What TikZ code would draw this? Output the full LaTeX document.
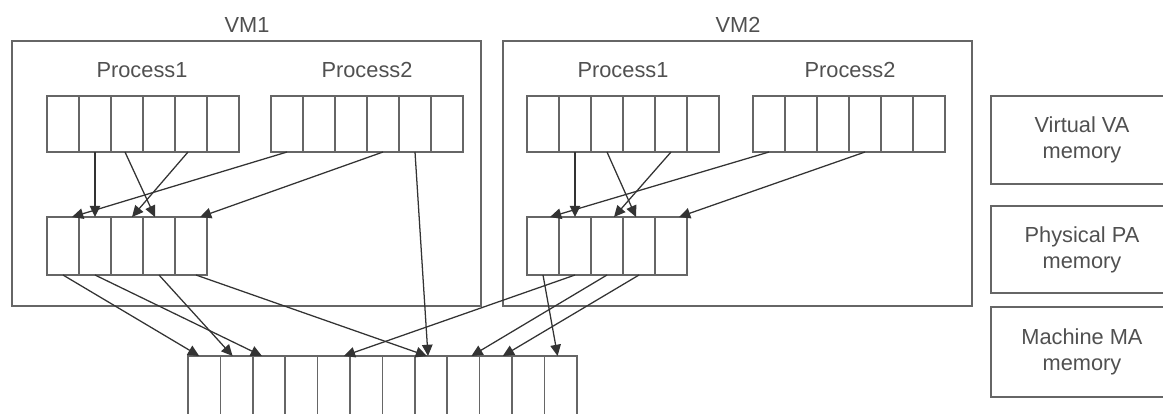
\documentclass[tikz,border=0pt]{standalone}
\usepackage{fontspec}
\setmainfont{Liberation Sans}
\usetikzlibrary{arrows.meta,positioning}

\definecolor{boxgray}{HTML}{666666}
\definecolor{arrgray}{HTML}{333333}
\definecolor{txtgray}{HTML}{505050}

\begin{document}
\begin{tikzpicture}[
	font=\fontsize{15.5}{18.5}\selectfont,
	>={Triangle[length=8pt,width=7.5pt]},
	vmbox/.style={
		rectangle, draw=boxgray, line width=1.1pt,
		minimum width=11.725cm, minimum height=6.625cm,
		inner sep=0pt
	},
	cell/.style={
		rectangle, draw=boxgray, line width=1.1pt,
		minimum width=0.8cm, minimum height=1.4cm,
		inner sep=0pt, outer sep=0pt
	},
	pcell/.style={cell, minimum height=1.45cm},
	mcell/.style={cell, minimum width=0.81cm, minimum height=1.6cm},
	membox/.style={
		rectangle, draw=boxgray, line width=1.1pt,
		minimum width=4.55cm, minimum height=2.2cm,
		align=center, text=txtgray, inner sep=2pt
	},
	lbl/.style={text=txtgray},
	arr/.style={->, line width=0.9pt, arrgray}
]

\useasboundingbox (0,0) rectangle (29.075,-10.325);
\clip (0,0) rectangle (29.075,-10.325);

% VM frames
\node[vmbox] (vm1) at (6.1625, -4.3375) {};
\node[vmbox] (vm2) at (18.4375, -4.3375) {};
\node[lbl] (vm1lbl) at (6.175, -0.625) {VM1};
\node[lbl] (vm2lbl) at (18.45, -0.625) {VM2};

\node[lbl] (p11lbl) at (3.55,  -1.75) {Process1};
\node[lbl] (p12lbl) at (9.175, -1.75) {Process2};
\node[lbl] (p21lbl) at (15.575,-1.75) {Process1};
\node[lbl] (p22lbl) at (21.25, -1.75) {Process2};

% Virtual page tables (6 cells each)
\foreach \i in {1,...,6} {
	\node[cell] (oneA\i) at ({0.775+0.8*\i}, -3.1) {};
	\node[cell] (oneB\i) at ({6.375+0.8*\i}, -3.1) {};
	\node[cell] (twoA\i) at ({12.775+0.8*\i}, -3.1) {};
	\node[cell] (twoB\i) at ({18.425+0.8*\i}, -3.1) {};
}

% Physical pages (5 cells each)
\foreach \i in {1,...,5} {
	\node[pcell] (oneP\i) at ({0.775+0.8*\i}, -6.15) {};
	\node[pcell] (twoP\i) at ({12.775+0.8*\i}, -6.15) {};
}

% Machine pages (12 cells), bottom runs off the page
\foreach \i in {1,...,12}
	\node[mcell] (mach\i) at ({4.295+0.81*\i}, -9.7) {};

% Legend column
\node[membox] (virt) at (27.05, -3.5)    {Virtual VA\\memory};
\node[membox, minimum height=2.175cm] (phys) at (27.05, -6.2375) {Physical PA\\memory};
\node[membox, minimum height=2.25cm]  (mach) at (27.05, -8.8)    {Machine MA\\memory};

% VM1: virtual -> physical
\draw[arr] (oneA2.south) -- (oneP2.north);
\draw[arr] ([xshift=-0.05cm]oneA3.south) -- ([xshift=-0.1cm]oneP4.north);
\draw[arr] ([xshift=-0.075cm]oneA5.south) -- ([xshift=0.125cm]oneP3.north);
\draw[arr] (oneB1.south) -- ([xshift=0.225cm]oneP1.north);
\draw[arr] (oneB4.south) -- ([xshift=0.225cm]oneP5.north);
\draw[arr] (oneB5.south) -- ([xshift=-0.075cm]mach8.north);

% VM1: physical -> machine
\draw[arr] (oneP1.south) -- ([xshift=-0.125cm]mach1.north);
\draw[arr] (oneP2.south) -- ([xshift=-0.175cm]mach3.north);
\draw[arr] (oneP4.south) -- ([xshift=-0.1cm]mach2.north);
\draw[arr] ([xshift=0.125cm]oneP5.south) -- ([xshift=-0.1cm]mach8.north);

% VM2: virtual -> physical
\draw[arr] (twoA2.south) -- (twoP2.north);
\draw[arr] (twoA3.south) -- ([xshift=-0.075cm]twoP4.north);
\draw[arr] (twoA5.south) -- ([xshift=0.175cm]twoP3.north);
\draw[arr] (twoB1.south) -- ([xshift=0.175cm]twoP1.north);
\draw[arr] (twoB4.south) -- ([xshift=0.2cm]twoP5.north);

% VM2: physical -> machine
\draw[arr] (twoP1.south) -- ([xshift=-0.075cm]mach12.north);
\draw[arr] (twoP2.south) -- ([xshift=0.25cm]mach5.north);
\draw[arr] (twoP3.south) -- ([xshift=0.2cm]mach9.north);
\draw[arr] (twoP4.south) -- ([xshift=0.175cm]mach10.north);

\end{tikzpicture}
\end{document}
